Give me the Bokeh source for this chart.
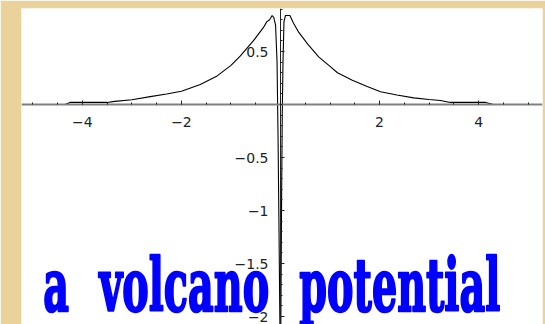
import numpy as np
from bokeh.plotting import figure
from bokeh.document import Document
from bokeh.models import Label, FixedTicker, Range1d, CustomJS
from bokeh.embed import file_html
from bokeh.resources import INLINE

# Potential curve V(x): a volcano-shaped barrier with a sharp well at the origin
x_vals = [-5.0, -4.35, -4.25, -3.5, -3.35, -3.0, -2.63, -2.3, -2.0, -1.62,
          -1.28, -1.0, -0.81, -0.55, -0.34, -0.28, -0.22, -0.17, -0.135, -0.1,
          -0.07, -0.05, -0.03, -0.01, 0.005, 0.02, 0.035, 0.05, 0.07, 0.1,
          0.135, 0.19, 0.26, 0.37, 0.55, 0.77, 1.0, 1.15, 1.45, 1.75,
          2.02, 2.35, 2.69, 3.0, 3.23, 3.43, 4.14, 4.3, 5.0]
v_vals = [0.0, 0.0, 0.02, 0.02, 0.03, 0.045, 0.075, 0.1, 0.125, 0.19,
          0.27, 0.37, 0.46, 0.6, 0.73, 0.78, 0.8, 0.84, 0.82, 0.75,
          0.4, -0.3, -1.2, -2.2, -2.2, -1.0, -0.1, 0.4, 0.78, 0.84,
          0.84, 0.84, 0.77, 0.68, 0.57, 0.45, 0.36, 0.3, 0.23, 0.17,
          0.12, 0.09, 0.063, 0.048, 0.038, 0.02, 0.02, 0.0, 0.0]

x_ticks = [-4, -2, 2, 4]
x_tick_labels = ["\u22124", "\u22122", "2", "4"]
y_ticks = [-2, -1.5, -1, -0.5, 0.5]
y_tick_labels = ["\u22122", "\u22121.5", "\u22121", "\u22120.5", "0.5"]

title_text = "a volcano potential"
title_width_px = 457   # condensed headline width

p = figure(width=545, height=324, output_backend="svg", toolbar_location=None,
           x_range=Range1d(-5.23, 5.29), y_range=Range1d(-2.075, 0.906))
p.min_border_left = 21
p.min_border_right = 3
p.min_border_top = 8
p.min_border_bottom = 0
p.border_fill_color = "#EAD39B"
p.background_fill_color = "white"
p.outline_line_color = None
p.grid.visible = False

# Axes cross at the origin
x_minor = [float(v) for v in np.arange(-5.0, 5.01, 0.5)]
y_minor = [round(float(v), 2) for v in np.arange(-2.0, 0.91, 0.1)]
p.xaxis.ticker = FixedTicker(ticks=x_ticks, minor_ticks=x_minor)
p.yaxis.ticker = FixedTicker(ticks=y_ticks, minor_ticks=y_minor)
p.xaxis.major_label_overrides = dict(zip(x_ticks, x_tick_labels))
p.yaxis.major_label_overrides = dict(zip(y_ticks, y_tick_labels))
p.xaxis.fixed_location = 0
p.yaxis.fixed_location = 0

for ax in (p.xaxis, p.yaxis):
    ax.major_tick_in = 4
    ax.major_tick_out = 0
    ax.minor_tick_in = 2
    ax.minor_tick_out = 0
    ax.major_label_text_font = "DejaVu Sans"
    ax.major_label_text_font_size = "14px"
    ax.major_label_text_color = "#222222"
    ax.major_tick_line_color = "#222222"
    ax.minor_tick_line_color = "#222222"

p.xaxis.axis_line_color = "#808080"
p.xaxis.axis_line_width = 2
p.yaxis.axis_line_color = "#222222"
p.xaxis.major_label_standoff = 12
p.yaxis.major_label_standoff = 12

p.line(x_vals, v_vals, line_color="black", line_width=1.1)

p.add_layout(Label(x=-4.79, y=-1.70, text=title_text,
                   text_font="DejaVu Serif", text_font_style="bold",
                   text_font_size="73px", text_color="#0000FF",
                   text_baseline="alphabetic"))

# Squeeze the headline into a heavy condensed face once the SVG text exists
condense = CustomJS(args=dict(target=title_text, width=title_width_px), code="""
function walk(node, found) {
  if (node.shadowRoot) walk(node.shadowRoot, found)
  const kids = node.children || []
  for (const k of kids) walk(k, found)
  if (node.tagName && node.tagName.toLowerCase() === "text" && node.textContent === target)
    found.push(node)
}
function fit() {
  const found = []
  walk(document.body, found)
  for (const t of found) {
    if (t.getAttribute("textLength") !== String(width)) {
      t.style.wordSpacing = "30px"
      t.setAttribute("stroke", "#0000FF")
      t.setAttribute("stroke-width", "2.5")
      t.setAttribute("stroke-linejoin", "round")
      t.setAttribute("textLength", String(width))
      t.setAttribute("lengthAdjust", "spacingAndGlyphs")
    }
  }
}
fit()
let n = 0
const id = setInterval(() => { fit(); if (++n > 400) clearInterval(id) }, 25)
""")

doc = Document()
doc.add_root(p)
doc.js_on_event("document_ready", condense)

open("out.html", "w").write(file_html(p, INLINE))
